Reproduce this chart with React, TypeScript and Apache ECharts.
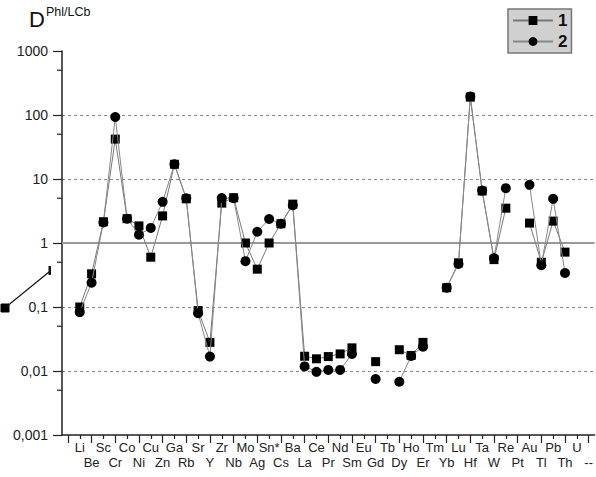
import React, { useEffect, useRef } from "react";
import * as echarts from "echarts";

const elements = [
  "Li", "Be", "Sc", "Cr", "Co", "Ni", "Cu", "Zn", "Ga", "Rb", "Sr", "Y", "Zr", "Nb", "Mo", "Ag",
  "Sn*", "Cs", "Ba", "La", "Ce", "Pr", "Nd", "Sm", "Eu", "Gd", "Tb", "Dy", "Ho", "Er", "Tm", "Yb",
  "Lu", "Hf", "Ta", "W", "Re", "Pt", "Au", "Tl", "Pb", "Th", "U", "--",
];

const series1: (number | null)[] = [
  0.1, 0.33, 2.15, 42, 2.4, 1.85, 0.6, 2.65, 17, 4.9, 0.088, 0.028, 4.2, 5.1, 1.0, 0.39,
  1.0, 2.0, 4.05, 0.017, 0.0155, 0.0168, 0.0185, 0.023, null, 0.014, null, 0.0215, 0.0175, 0.028, null, 0.2,
  0.49, 190, 6.5, 0.55, 3.5, null, 2.05, 0.5, 2.2, 0.72, null, null,
];

const series2: (number | null)[] = [
  0.083, 0.24, 2.1, 93, 2.4, 1.35, 1.72, 4.4, 17, 5.0, 0.08, 0.0168, 5.05, 5.0, 0.52, 1.5,
  2.37, 2.0, 3.9, 0.0118, 0.0097, 0.0104, 0.0104, 0.0185, null, 0.0075, null, 0.0068, 0.0172, 0.024, null, 0.2,
  0.47, 195, 6.6, 0.58, 7.2, null, 8.1, 0.45, 4.9, 0.34, null, null,
];

const yTickLabels: Record<number, string> = {
  3: "1000", 2: "100", 1: "10", 0: "1", [-1]: "0,1", [-2]: "0,01", [-3]: "0,001",
};

const minorTickValues = [500, 50, 5, 0.5, 0.05, 0.005];

const FONT = "'Liberation Sans', Arial, Helvetica, sans-serif";

export default function App() {
  const ref = useRef<HTMLDivElement>(null);

  useEffect(() => {
    if (!ref.current) return;
    const chart = echarts.init(ref.current, null, { renderer: "svg" });
    const cats = ["", ...elements];
    const toData = (arr: (number | null)[]) => ["-", ...arr.map((v) => (v == null ? "-" : v))];

    const option: any = {
      animation: false,
      backgroundColor: "#ffffff",
      textStyle: { fontFamily: FONT },
      grid: { left: 62, right: 1, top: 51, bottom: 42, containLabel: false },
      legend: {
        orient: "vertical",
        left: 508,
        top: 9,
        padding: [3, 4, 3, 4],
        itemGap: 4,
        itemWidth: 40,
        itemHeight: 11,
        backgroundColor: "#d0d0d0",
        borderColor: "#777777",
        borderWidth: 1.5,
        borderRadius: 0,
        textStyle: { fontFamily: FONT, fontWeight: "bold", fontSize: 17, color: "#111" },
        data: ["1", "2"],
      },
      graphic: {
        elements: [
          { type: "text", id: "tD", x: 29, y: 8, z: 100, style: { text: "D", font: `22px ${FONT}`, fill: "#111" } },
          { type: "text", id: "tSup", x: 46, y: 5, z: 100, style: { text: "Phl/LCb", font: `12.5px ${FONT}`, fill: "#111" } },
          { type: "rect", id: "strayBox", x: 0, y: 0, z: 100, shape: { x: 1, y: 304, width: 8, height: 8 }, style: { fill: "#000", stroke: "#000" } },
          { type: "line", id: "strayLine", x: 0, y: 0, z: 100, shape: { x1: 6, y1: 307, x2: 49, y2: 272 }, style: { stroke: "#111", lineWidth: 1.2 } },
          { type: "rect", id: "strayTick", x: 0, y: 0, z: 100, shape: { x: 48.5, y: 266, width: 2.5, height: 9 }, style: { fill: "#111" } },
        ],
      },
      xAxis: [
        {
          type: "category",
          data: cats,
          boundaryGap: true,
          axisLine: { show: true, lineStyle: { color: "#222", width: 1.5 } },
          axisTick: {
            show: true,
            alignWithLabel: true,
            interval: (i: number) => i % 2 === 0,
            length: 8,
            lineStyle: { color: "#222", width: 1.2 },
          },
          axisLabel: {
            interval: 0,
            margin: 5,
            fontSize: 13,
            lineHeight: 15,
            color: "#222",
            fontFamily: FONT,
            formatter: (v: string, i: number) => (i % 2 === 1 ? v : "\n" + v),
          },
          splitLine: { show: false },
        },
        {
          type: "category",
          data: cats,
          boundaryGap: true,
          position: "bottom",
          axisLine: { show: false },
          axisTick: {
            show: true,
            alignWithLabel: true,
            interval: (i: number) => i % 2 === 1,
            length: 4,
            lineStyle: { color: "#222", width: 1.2 },
          },
          axisLabel: { show: false },
          splitLine: { show: false },
        },
      ],
      yAxis: {
        type: "log",
        logBase: 10,
        min: 0.001,
        max: 1000,
        splitNumber: 6,
        axisLine: { show: true, lineStyle: { color: "#222", width: 1.5 } },
        axisTick: { show: true, length: 9, lineStyle: { color: "#222", width: 1.2 } },
        axisLabel: {
          margin: 14,
          fontSize: 14,
          color: "#222",
          fontFamily: FONT,
          formatter: (v: number) => yTickLabels[Math.round(Math.log10(v))] ?? "",
        },
        splitLine: {
          show: true,
          showMinLine: false,
          showMaxLine: false,
          lineStyle: { color: "#888", type: [3, 3], width: 1 },
        },
      },
      series: [
        {
          name: "1",
          type: "line",
          data: toData(series1),
          symbol: "rect",
          symbolSize: 9,
          connectNulls: false,
          itemStyle: { color: "#000" },
          lineStyle: { color: "#777", width: 1 },
          z: 3,
          markLine: {
            silent: true,
            symbol: "none",
            label: { show: false },
            lineStyle: { color: "#999", width: 2, type: "solid" },
            data: [{ yAxis: 1 }],
            z: 1,
          },
        },
        {
          name: "2",
          type: "line",
          data: toData(series2),
          symbol: "circle",
          symbolSize: 10,
          connectNulls: false,
          itemStyle: { color: "#000" },
          lineStyle: { color: "#888", width: 1 },
          z: 4,
        },
        {
          type: "custom",
          clip: false,
          silent: true,
          data: minorTickValues.map((v) => [0, v]),
          encode: { x: 0, y: 1 },
          renderItem: (params: any, api: any) => {
            const p = api.coord([api.value(0), api.value(1)]);
            const x0 = params.coordSys.x;
            return {
              type: "line",
              shape: { x1: x0 - 5, y1: p[1], x2: x0, y2: p[1] },
              style: { stroke: "#222", lineWidth: 1.2 },
            };
          },
        },
      ],
    };

    chart.setOption(option);
    return () => chart.dispose();
  }, []);

  return (
    <div
      ref={ref}
      style={{ position: "absolute", left: 0, top: 0, width: 596, height: 477 }}
    />
  );
}
